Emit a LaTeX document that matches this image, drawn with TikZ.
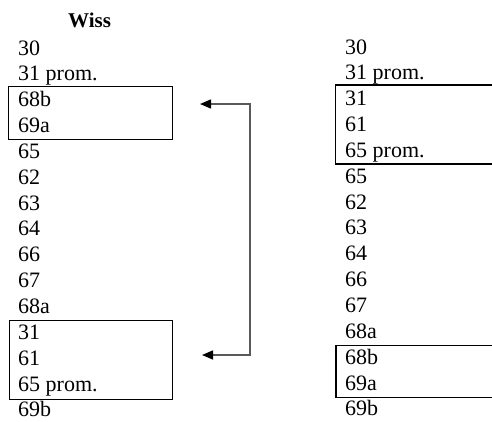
\documentclass[tikz,border=0pt]{standalone}
\usepackage{fontspec}
\setmainfont{Liberation Serif}
\usetikzlibrary{arrows.meta}
\begin{document}
\begin{tikzpicture}[x=1pt,y=-1pt,
  item/.style={anchor=base west,inner sep=0pt,font=\fontsize{22}{26}\selectfont},
  head/.style={anchor=base west,inner sep=0pt,font=\fontsize{21}{26}\selectfont\bfseries},
  frame/.style={draw,line width=1.1pt,inner sep=0pt,anchor=north west},
  conn/.style={draw=black!65,line width=1.4pt,{Triangle[length=11pt,width=9pt,color=black]}-{Triangle[length=11pt,width=9pt,color=black]}}]
\useasboundingbox (0,0) rectangle (492,421);
\node[head] (wiss) at (68,27.5) {Wiss};
% left column
\foreach \t [count=\k from 0] in {30,31 prom.,68b,69a,65,62,63,64,66,67,68a,31,61,65 prom.,69b}
  \node[item] (L\k) at (18,{55+25.85*\k}) {\t};
% right column
\foreach \t [count=\k from 0] in {30,31 prom.,31,61,65 prom.,65,62,63,64,66,67,68a,68b,69a,69b}
  \node[item] (R\k) at (345,{54+25.85*\k}) {\t};
% left boxes
\node[frame,minimum width=164pt,minimum height=53pt] (LboxA) at (8,86) {};
\node[frame,minimum width=163pt,minimum height=79pt] (LboxB) at (9,319.5) {};
% right boxes (open to the right edge)
\draw[line width=1.1pt] (500,85) -- (335.5,85) -- (335.5,164) -- (500,164);
\draw[line width=1.1pt] (500,345.5) -- (336,345.5) -- (336,397.5) -- (500,397.5);
% connector
\coordinate (tipA) at (200,104);
\coordinate (cA) at (250,104);
\coordinate (cB) at (250,355);
\coordinate (tipB) at (202,355);
\draw[conn] (tipA) -- (cA) -- (cB) -- (tipB);
\end{tikzpicture}
\end{document}
